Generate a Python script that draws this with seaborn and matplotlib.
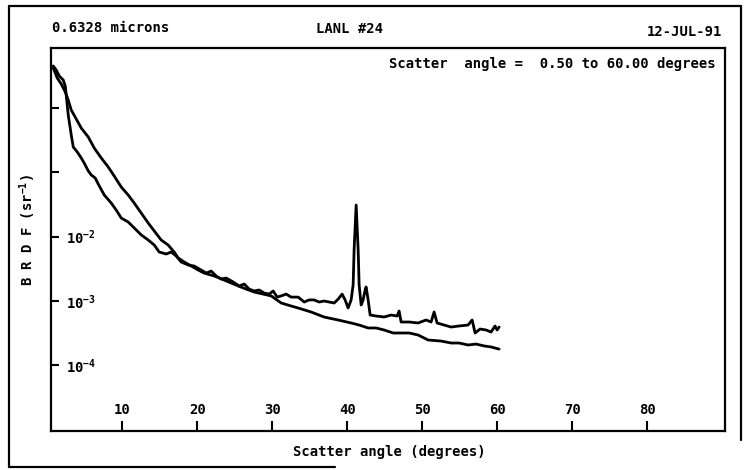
import numpy as np
import pandas as pd
import matplotlib
matplotlib.use("Agg")
import matplotlib.pyplot as plt
from matplotlib.lines import Line2D
from matplotlib.ticker import NullLocator
import seaborn as sns

# ---- data (scatter angle in degrees, BRDF in sr^-1) ----
angle_1 = [0.80, 1.33, 1.87, 2.40, 2.80, 3.20, 3.87, 4.53, 5.47, 6.27, 7.20, 8.13, 8.93, 9.87,
           10.80, 11.60, 12.53, 13.47, 14.27, 15.20, 16.13, 16.93, 17.47, 18.27, 19.20, 20.13,
           20.93, 22.27, 23.60, 24.53, 25.47, 26.53, 27.60, 28.80, 29.87, 31.20, 32.53, 33.47,
           35.20, 36.93, 38.80, 40.53, 41.60, 42.80, 43.87, 44.93, 46.13, 47.20, 48.27, 49.47,
           50.80, 52.53, 53.87, 54.93, 56.13, 57.20, 58.27, 59.20, 60.27]
brdf_1 = [4.2, 2.93, 2.36, 1.78, 1.33, 0.931, 0.674, 0.488, 0.354, 0.238, 0.167, 0.121, 0.0874,
          0.0589, 0.0442, 0.0332, 0.0232, 0.0162, 0.0122, 0.00882, 0.00737, 0.00574, 0.00463,
          0.00401, 0.00348, 0.00301, 0.0027, 0.00243, 0.0021, 0.00189, 0.0017, 0.00152, 0.00137,
          0.00127, 0.00119, 0.000923, 0.000829, 0.000771, 0.000668, 0.000558, 0.000502,
          0.000451, 0.000419, 0.000377, 0.000377, 0.000351, 0.000315, 0.000315, 0.000315,
          0.000293, 0.000245, 0.000236, 0.00022, 0.00022, 0.000205, 0.000212, 0.000198,
          0.000191, 0.000177]

angle_2 = [0.80, 1.20, 1.60, 2.13, 2.40, 2.53, 2.80, 3.20, 3.47, 4.00, 4.53, 4.93, 5.47, 5.87,
           6.40, 6.80, 7.60, 8.53, 9.20, 9.87, 10.80, 11.60, 12.53, 13.47, 14.27, 14.93, 15.87,
           16.53, 17.20, 17.87, 18.80, 19.60, 20.53, 21.20, 21.87, 22.53, 23.20, 23.87, 24.80,
           25.60, 26.27, 26.93, 27.60, 28.27, 28.93, 29.60, 30.13, 30.67, 31.20, 31.87, 32.53,
           33.47, 34.27, 34.93, 35.60, 36.27, 36.93, 37.60, 38.27, 38.80, 39.33, 39.73, 40.13,
           40.53, 40.80, 40.93, 41.20, 41.47, 41.60, 41.87, 42.13, 42.40, 42.53, 42.80, 43.07,
           43.87, 44.93, 45.87, 46.67, 46.93, 47.20, 48.27, 49.47, 50.53, 51.20, 51.60, 52.00,
           52.93, 53.87, 54.93, 56.13, 56.67, 57.07, 57.73, 58.53, 59.20, 59.73, 60.00, 60.27]
brdf_2 = [4.51, 3.9, 3.15, 2.73, 2.2, 1.59, 0.778, 0.38, 0.247, 0.207, 0.167, 0.139, 0.105,
          0.0906, 0.0814, 0.0656, 0.0443, 0.0332, 0.0258, 0.0194, 0.0168, 0.0136, 0.0106,
          0.00882, 0.00737, 0.00574, 0.00534, 0.00574, 0.00497, 0.00401, 0.0036, 0.00347,
          0.00301, 0.0027, 0.0029, 0.00243, 0.00218, 0.00226, 0.00196, 0.0017, 0.00182,
          0.00152, 0.00142, 0.00147, 0.00132, 0.00127, 0.00142, 0.00114, 0.00119, 0.00127,
          0.00114, 0.00114, 0.000956, 0.00103, 0.00103, 0.000956, 0.000991, 0.000956,
          0.000923, 0.00106, 0.00127, 0.00103, 0.000771, 0.00103, 0.00176, 0.00616, 0.0309,
          0.00616, 0.00176, 0.000859, 0.00103, 0.00147, 0.00164, 0.00103, 0.0006, 0.000579,
          0.000559, 0.0006, 0.000579, 0.000693, 0.000467, 0.000467, 0.000451, 0.000502,
          0.000467, 0.000668, 0.000451, 0.000419, 0.00039, 0.000405, 0.000419, 0.000502,
          0.000315, 0.000363, 0.000351, 0.000326, 0.000405, 0.000351, 0.00039]

x_ticks = [10, 20, 30, 40, 50, 60, 70, 80]
x_tick_labels = ["10", "20", "30", "40", "50", "60", "70", "80"]
y_ticks = [1, 0.1, 0.01, 0.001, 0.0001]
y_tick_labels = ["", "", "$10^{-2}$", "$10^{-3}$", "$10^{-4}$"]

header_left = "0.6328 microns"
header_mid = "LANL #24"
header_right = "12-JUL-91"
range_note = "Scatter  angle =  0.50 to 60.00 degrees"
x_label = "Scatter angle (degrees)"
y_label = "B R D F (sr$^{-1}$)"

# ---- styling ----
sns.set_theme(style="white")
plt.rcParams["font.family"] = ["DejaVu Sans Mono", "DejaVu Sans"]
plt.rcParams["font.weight"] = "bold"
plt.rcParams["mathtext.default"] = "regular"
plt.rcParams["text.color"] = "black"
plt.rcParams["axes.labelcolor"] = "black"
plt.rcParams["xtick.color"] = "black"
plt.rcParams["ytick.color"] = "black"
FS = 10

fig = plt.figure(figsize=(7.51, 4.70), dpi=100)
fig.patch.set_facecolor("white")
W, H = 751.0, 470.0
L, R, T, B = 51, 725, 48, 431
ax = fig.add_axes([L / W, 1 - B / H, (R - L) / W, (B - T) / H])
ax.set_facecolor("white")

df1 = pd.DataFrame({"angle": angle_1, "brdf": brdf_1})
df2 = pd.DataFrame({"angle": angle_2, "brdf": brdf_2})
sns.lineplot(data=df1, x="angle", y="brdf", ax=ax, color="black", linewidth=2.0,
             sort=False, estimator=None)
sns.lineplot(data=df2, x="angle", y="brdf", ax=ax, color="black", linewidth=2.0,
             sort=False, estimator=None)

ax.set_yscale("log")
ax.set_xlim(0.5, 90.4)
ax.set_ylim(10 ** -5.027, 10 ** 0.934)

ax.set_xticks(x_ticks, x_tick_labels)
ax.set_yticks(y_ticks, y_tick_labels)
ax.yaxis.set_minor_locator(NullLocator())
ax.xaxis.set_minor_locator(NullLocator())

ax.tick_params(axis="y", which="major", left=True, right=False, direction="in", length=6,
               width=1.5, color="black", pad=-11, labelsize=FS, labelcolor="black")
ax.tick_params(axis="x", which="major", bottom=True, top=False, direction="in", length=7,
               width=1.5, color="black", pad=-12, labelsize=FS, labelcolor="black")
for lab in ax.get_yticklabels():
    lab.set_horizontalalignment("left")
    lab.set_fontweight("bold")
for lab in ax.get_xticklabels():
    lab.set_verticalalignment("baseline")
    lab.set_fontweight("bold")

for s in ax.spines.values():
    s.set_color("black")
    s.set_linewidth(1.6)
    s.set_visible(True)

ax.set_xlabel(x_label, fontsize=FS, fontweight="bold", color="black", va="center")
ax.xaxis.set_label_coords((389 - L) / (R - L), (B - 452) / (B - T))
ax.set_ylabel(y_label, fontsize=FS, fontweight="bold", color="black", va="center")
ax.yaxis.set_label_coords((28 - L) / (R - L), (B - 230) / (B - T))

# header and note texts
fig.text(52 / W, 1 - 28 / H, header_left, ha="left", va="center", fontsize=FS, fontweight="bold")
fig.text(350 / W, 1 - 29 / H, header_mid, ha="center", va="center", fontsize=FS, fontweight="bold")
fig.text(722 / W, 1 - 32 / H, header_right, ha="right", va="center", fontsize=FS, fontweight="bold")
fig.text(716 / W, 1 - 64 / H, range_note, ha="right", va="center", fontsize=FS, fontweight="bold")

# outer frame of the page
frame_kw = dict(color="black", linewidth=1.6, transform=fig.transFigure)
fig.add_artist(Line2D([9 / W, 741 / W], [1 - 6 / H, 1 - 6 / H], **frame_kw))
fig.add_artist(Line2D([9 / W, 9 / W], [1 - 6 / H, 1 - 467 / H], **frame_kw))
fig.add_artist(Line2D([741 / W, 741 / W], [1 - 6 / H, 1 - 440 / H], **frame_kw))
fig.add_artist(Line2D([9 / W, 335 / W], [1 - 467 / H, 1 - 467 / H], **frame_kw))

fig.savefig("out.png", dpi=100, facecolor="white")
